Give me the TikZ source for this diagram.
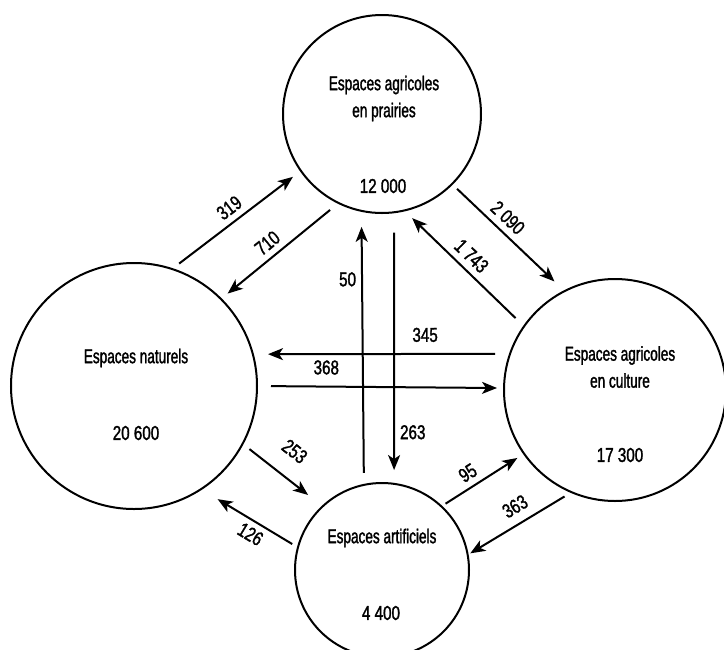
\documentclass[tikz,border=0pt]{standalone}
\usepackage{fontspec}
\setmainfont[FakeStretch=0.68, FakeBold=1.5]{Liberation Sans}
\newfontfamily\numfont[FakeStretch=0.76, FakeBold=1.5]{Liberation Sans}
\usetikzlibrary{arrows.meta}
\tikzstyle{zone} = [circle, draw=black, line width=2pt, inner sep=0pt, outer sep=0pt]
\tikzstyle{title} = [align=center, inner sep=0pt, font=\fontsize{20}{27}\selectfont]
\tikzstyle{total} = [inner sep=0pt, font=\fontsize{20}{24}\selectfont\numfont]
\tikzstyle{arrow} = [line width=2pt, -{Stealth[length=15pt, width=12pt, inset=4pt]}]
\tikzstyle{flow} = [inner sep=0pt, sloped, above=6pt, font=\fontsize{20}{24}\selectfont\numfont]
\tikzstyle{flowv} = [inner sep=0pt, font=\fontsize{20}{24}\selectfont\numfont]

\begin{document}
\begin{tikzpicture}[x=1pt, y=-1pt]
    \useasboundingbox (0,0) rectangle (724,649);
    \clip (0,0) rectangle (724,649);

    %circles
    \node (pra) [zone, minimum size=198pt] at (382,114) {};
    \node (nat) [zone, minimum size=246pt] at (134,386) {};
    \node (cul) [zone, minimum size=222pt] at (615,390) {};
    \node (art) [zone, minimum size=174pt] at (382,570) {};

    %texts
    \node (praT) [title] at (384,98.5) {Espaces agricoles\\en prairies};
    \node (praN) [total] at (383,186) {12 000};
    \node (natT) [title] at (136,358) {Espaces naturels};
    \node (natN) [total] at (136,433) {20 600};
    \node (culT) [title] at (620,367) {Espaces agricoles\\en culture};
    \node (culN) [total] at (620,455) {17 300};
    \node (artT) [title] at (382,538) {Espaces artificiels};
    \node (artN) [total] at (381,613) {4 400};

    %arrows
    \draw [arrow, shorten <=9pt, shorten >=10pt] (nat.72.7) -- (pra.215.1) node (f319) [flow, pos=0.51] {319};
    \draw [arrow, shorten <=11pt, shorten >=8.6pt] (pra.244.1) -- (nat.45.4) node (f710) [flow, pos=0.53] {710};
    \draw [arrow, shorten <=7pt, shorten >=14pt] (pra.315.8) -- (cul.117.9) node (f2090) [flow, pos=0.41] {2 090};
    \draw [arrow, shorten <=11.8pt, shorten >=11pt] (cul.145.6) -- (pra.283.5) node (f1743) [flow, pos=0.52] {1 743};
    \draw [arrow, shorten <=15pt, shorten >=15.2pt] (cul.161.1) -- (nat.15.1) node (f345) [flow, pos=0.33, above=5pt] {345};
    \draw [arrow, shorten <=14pt, shorten >=7pt] (nat.-0.9) -- (cul.179) node (f368) [flow, pos=0.28, above=5pt] {368};
    \draw [arrow, shorten <=5pt, shorten >=8pt] (art.47.7) -- (cul.215.7) node (f95) [flow, pos=0.41] {95};
    \draw [arrow, shorten <=8.3pt, shorten >=3pt] (cul.247.2) -- (art.10.9) node (f363) [flow, pos=0.46, above=3pt] {363};
    \draw [arrow, shorten <=8.7pt, shorten >=18.5pt] (nat.332.6) -- (art.133.2) node (f253) [flow, pos=0.45, above=12pt] {253};
    \draw [arrow, shorten <=6.7pt, shorten >=19.4pt] (art.165.7) -- (nat.303.3) node (f126) [flow, pos=0.42, below=11pt] {126};
    \draw [arrow, shorten <=12pt, shorten >=16pt] (art.102.6) -- (pra.258.9) node (f50) [flowv, pos=0.75, left=5pt] {50};
    \draw [arrow, shorten <=20.4pt, shorten >=13.8pt] (pra.277) -- (art.82.1) node (f263) [flowv, pos=0.81, right=5pt] {263};

\end{tikzpicture}
\end{document}
